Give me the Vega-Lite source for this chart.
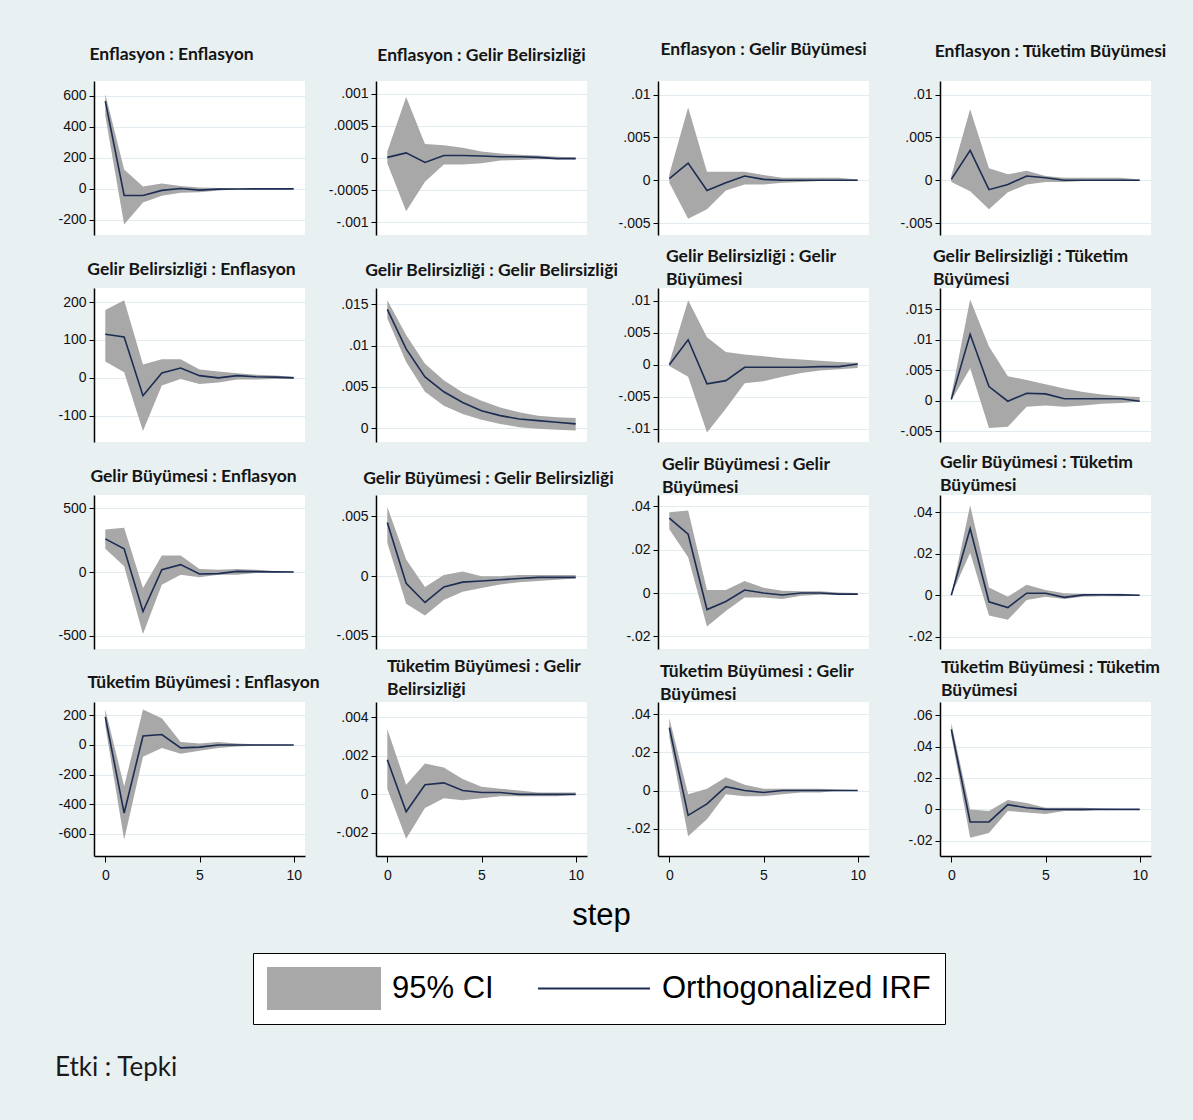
{
  "$schema": "https://vega.github.io/schema/vega-lite/v6.json",
  "background": "#e8f0f2",
  "padding": {"left": 55, "top": 40, "right": 42, "bottom": 44},
  "title": {"text": "Etki : Tepki", "orient": "bottom", "anchor": "start", "frame": "group", "fontWeight": "normal", "fontSize": 26, "offset": 30, "dx": -39, "color": "#1a1a1a"},
  "config": {
    "view": {"fill": "white", "stroke": null},
    "title": {"font": "Lato", "fontSize": 17.5, "fontWeight": "bold", "color": "#141414", "frame": "group", "anchor": "middle", "lineHeight": 23},
    "axis": {"domainColor": "#000000", "domainWidth": 1.5, "tickColor": "#000000", "tickSize": 5, "tickWidth": 1, "tickCount": 12, "labelFont": "Liberation Sans", "labelFontSize": 14, "labelColor": "#111111", "labelPadding": 3, "labelOverlap": false, "title": null},
    "axisY": {"grid": true, "gridColor": "#e2ebef", "gridWidth": 1.2, "labelExpr": "replace(toString(datum.value), regexp('^(-?)0\\\\.'), '$1.')"},
    "axisX": {"grid": false, "tickSize": 6, "labelPadding": 6},
    "line": {"strokeWidth": 1.6},
    "area": {"opacity": 1}
  },
  "data": {"values": [
    {"panel":"11","step":0,"irf":565,"lo":470,"hi":610},{"panel":"11","step":1,"irf":-43,"lo":-230,"hi":125},{"panel":"11","step":2,"irf":-43,"lo":-88,"hi":15},{"panel":"11","step":3,"irf":-10,"lo":-45,"hi":35},{"panel":"11","step":4,"irf":2,"lo":-25,"hi":18},{"panel":"11","step":5,"irf":-8,"lo":-22,"hi":8},{"panel":"11","step":6,"irf":-2,"lo":-10,"hi":5},{"panel":"11","step":7,"irf":-1,"lo":-5,"hi":3},{"panel":"11","step":8,"irf":0,"lo":-3,"hi":2},{"panel":"11","step":9,"irf":0,"lo":-2,"hi":1},{"panel":"11","step":10,"irf":0,"lo":-1,"hi":1},
    {"panel":"12","step":0,"irf":0.00001,"lo":-0.00008,"hi":0.0001},{"panel":"12","step":1,"irf":0.00008,"lo":-0.00083,"hi":0.00095},{"panel":"12","step":2,"irf":-0.00007,"lo":-0.00037,"hi":0.00022},{"panel":"12","step":3,"irf":0.00004,"lo":-0.0001,"hi":0.0002},{"panel":"12","step":4,"irf":0.00004,"lo":-0.0001,"hi":0.00016},{"panel":"12","step":5,"irf":0.00003,"lo":-0.00008,"hi":0.0001},{"panel":"12","step":6,"irf":0.00002,"lo":-0.00004,"hi":0.00007},{"panel":"12","step":7,"irf":0.00002,"lo":-0.00003,"hi":0.00005},{"panel":"12","step":8,"irf":0.00001,"lo":-0.00002,"hi":0.00004},{"panel":"12","step":9,"irf":-0.00001,"lo":-0.00002,"hi":0.00002},{"panel":"12","step":10,"irf":-0.00001,"lo":-0.00002,"hi":0.00001},
    {"panel":"13","step":0,"irf":0.0002,"lo":-0.0003,"hi":0.0007},{"panel":"13","step":1,"irf":0.002,"lo":-0.0045,"hi":0.0085},{"panel":"13","step":2,"irf":-0.0012,"lo":-0.0034,"hi":0.001},{"panel":"13","step":3,"irf":-0.0003,"lo":-0.0012,"hi":0.001},{"panel":"13","step":4,"irf":0.0005,"lo":-0.0005,"hi":0.001},{"panel":"13","step":5,"irf":0.0001,"lo":-0.0005,"hi":0.0006},{"panel":"13","step":6,"irf":0,"lo":-0.0003,"hi":0.0003},{"panel":"13","step":7,"irf":0,"lo":-0.0002,"hi":0.0003},{"panel":"13","step":8,"irf":0,"lo":-0.0001,"hi":0.0003},{"panel":"13","step":9,"irf":0,"lo":-0.0001,"hi":0.0003},{"panel":"13","step":10,"irf":0,"lo":0,"hi":0.0001},
    {"panel":"14","step":0,"irf":0.0001,"lo":-0.0002,"hi":0.0005},{"panel":"14","step":1,"irf":0.0035,"lo":-0.0013,"hi":0.0083},{"panel":"14","step":2,"irf":-0.0011,"lo":-0.0034,"hi":0.0014},{"panel":"14","step":3,"irf":-0.0005,"lo":-0.0014,"hi":0.0007},{"panel":"14","step":4,"irf":0.0005,"lo":-0.0005,"hi":0.0011},{"panel":"14","step":5,"irf":0.0003,"lo":-0.0002,"hi":0.0005},{"panel":"14","step":6,"irf":0,"lo":-0.0002,"hi":0.0003},{"panel":"14","step":7,"irf":0,"lo":-0.0001,"hi":0.0003},{"panel":"14","step":8,"irf":0,"lo":-0.0001,"hi":0.0003},{"panel":"14","step":9,"irf":0,"lo":-0.0001,"hi":0.0003},{"panel":"14","step":10,"irf":0,"lo":0,"hi":0.0001},
    {"panel":"21","step":0,"irf":115,"lo":43,"hi":179},{"panel":"21","step":1,"irf":108,"lo":15,"hi":205},{"panel":"21","step":2,"irf":-47,"lo":-140,"hi":35},{"panel":"21","step":3,"irf":13,"lo":-20,"hi":49},{"panel":"21","step":4,"irf":26,"lo":-3,"hi":49},{"panel":"21","step":5,"irf":6,"lo":-16,"hi":22},{"panel":"21","step":6,"irf":0,"lo":-12,"hi":17},{"panel":"21","step":7,"irf":6,"lo":-4,"hi":12},{"panel":"21","step":8,"irf":3,"lo":-4,"hi":8},{"panel":"21","step":9,"irf":2,"lo":-3,"hi":6},{"panel":"21","step":10,"irf":0,"lo":-2,"hi":3},
    {"panel":"22","step":0,"irf":0.0144,"lo":0.0133,"hi":0.0155},{"panel":"22","step":1,"irf":0.0096,"lo":0.008,"hi":0.0113},{"panel":"22","step":2,"irf":0.0062,"lo":0.0044,"hi":0.0078},{"panel":"22","step":3,"irf":0.0044,"lo":0.0027,"hi":0.0058},{"panel":"22","step":4,"irf":0.0031,"lo":0.0017,"hi":0.0043},{"panel":"22","step":5,"irf":0.0021,"lo":0.001,"hi":0.0033},{"panel":"22","step":6,"irf":0.0015,"lo":0.0005,"hi":0.0025},{"panel":"22","step":7,"irf":0.0011,"lo":0.0001,"hi":0.0019},{"panel":"22","step":8,"irf":0.0009,"lo":-0.0001,"hi":0.0015},{"panel":"22","step":9,"irf":0.0007,"lo":-0.0002,"hi":0.0013},{"panel":"22","step":10,"irf":0.0005,"lo":-0.0003,"hi":0.0012},
    {"panel":"23","step":0,"irf":0,"lo":-0.0002,"hi":0.0003},{"panel":"23","step":1,"irf":0.0039,"lo":-0.0019,"hi":0.0101},{"panel":"23","step":2,"irf":-0.003,"lo":-0.0106,"hi":0.0043},{"panel":"23","step":3,"irf":-0.0025,"lo":-0.0069,"hi":0.002},{"panel":"23","step":4,"irf":-0.0004,"lo":-0.0029,"hi":0.0016},{"panel":"23","step":5,"irf":-0.0004,"lo":-0.0026,"hi":0.0013},{"panel":"23","step":6,"irf":-0.0004,"lo":-0.0019,"hi":0.001},{"panel":"23","step":7,"irf":-0.0004,"lo":-0.0013,"hi":0.0008},{"panel":"23","step":8,"irf":-0.0003,"lo":-0.0009,"hi":0.0006},{"panel":"23","step":9,"irf":-0.0003,"lo":-0.0007,"hi":0.0004},{"panel":"23","step":10,"irf":0.0001,"lo":-0.0005,"hi":0.0003},
    {"panel":"24","step":0,"irf":0.0002,"lo":0,"hi":0.0009},{"panel":"24","step":1,"irf":0.0109,"lo":0.0053,"hi":0.0166},{"panel":"24","step":2,"irf":0.0023,"lo":-0.0045,"hi":0.0089},{"panel":"24","step":3,"irf":-0.0001,"lo":-0.0043,"hi":0.004},{"panel":"24","step":4,"irf":0.0012,"lo":-0.001,"hi":0.0034},{"panel":"24","step":5,"irf":0.0011,"lo":-0.0008,"hi":0.0027},{"panel":"24","step":6,"irf":0.0003,"lo":-0.001,"hi":0.002},{"panel":"24","step":7,"irf":0.0003,"lo":-0.0008,"hi":0.0014},{"panel":"24","step":8,"irf":0.0003,"lo":-0.0005,"hi":0.001},{"panel":"24","step":9,"irf":0.0003,"lo":-0.0004,"hi":0.0007},{"panel":"24","step":10,"irf":-0.0001,"lo":-0.0002,"hi":0.0006},
    {"panel":"31","step":0,"irf":260,"lo":182,"hi":334},{"panel":"31","step":1,"irf":182,"lo":45,"hi":347},{"panel":"31","step":2,"irf":-310,"lo":-487,"hi":-126},{"panel":"31","step":3,"irf":18,"lo":-100,"hi":129},{"panel":"31","step":4,"irf":58,"lo":-21,"hi":129},{"panel":"31","step":5,"irf":-16,"lo":-42,"hi":24},{"panel":"31","step":6,"irf":-13,"lo":-21,"hi":18},{"panel":"31","step":7,"irf":5,"lo":-21,"hi":24},{"panel":"31","step":8,"irf":3,"lo":-8,"hi":18},{"panel":"31","step":9,"irf":1,"lo":-4,"hi":6},{"panel":"31","step":10,"irf":0,"lo":-2,"hi":2},
    {"panel":"32","step":0,"irf":0.0045,"lo":0.0028,"hi":0.0058},{"panel":"32","step":1,"irf":-0.0006,"lo":-0.0023,"hi":0.0014},{"panel":"32","step":2,"irf":-0.0022,"lo":-0.0033,"hi":-0.0009},{"panel":"32","step":3,"irf":-0.0009,"lo":-0.002,"hi":0.0001},{"panel":"32","step":4,"irf":-0.0005,"lo":-0.0013,"hi":0.0004},{"panel":"32","step":5,"irf":-0.0004,"lo":-0.001,"hi":0},{"panel":"32","step":6,"irf":-0.0003,"lo":-0.0007,"hi":0},{"panel":"32","step":7,"irf":-0.0002,"lo":-0.0005,"hi":0.0001},{"panel":"32","step":8,"irf":-0.0001,"lo":-0.0004,"hi":0.0001},{"panel":"32","step":9,"irf":-0.0001,"lo":-0.0003,"hi":0.0001},{"panel":"32","step":10,"irf":-0.0001,"lo":-0.0002,"hi":0.0001},
    {"panel":"33","step":0,"irf":0.0345,"lo":0.0294,"hi":0.0373},{"panel":"33","step":1,"irf":0.0271,"lo":0.0165,"hi":0.0381},{"panel":"33","step":2,"irf":-0.0076,"lo":-0.0154,"hi":0.0014},{"panel":"33","step":3,"irf":-0.0039,"lo":-0.0083,"hi":0.0014},{"panel":"33","step":4,"irf":0.0014,"lo":-0.002,"hi":0.0055},{"panel":"33","step":5,"irf":0,"lo":-0.002,"hi":0.0024},{"panel":"33","step":6,"irf":-0.0009,"lo":-0.0028,"hi":0.0011},{"panel":"33","step":7,"irf":0,"lo":-0.0013,"hi":0.0008},{"panel":"33","step":8,"irf":0,"lo":-0.0008,"hi":0.0008},{"panel":"33","step":9,"irf":-0.0005,"lo":-0.0008,"hi":0.0003},{"panel":"33","step":10,"irf":-0.0005,"lo":-0.0008,"hi":0},
    {"panel":"34","step":0,"irf":0,"lo":0,"hi":0},{"panel":"34","step":1,"irf":0.0321,"lo":0.0205,"hi":0.0433},{"panel":"34","step":2,"irf":-0.0031,"lo":-0.0097,"hi":0.0038},{"panel":"34","step":3,"irf":-0.0059,"lo":-0.0118,"hi":-0.0007},{"panel":"34","step":4,"irf":0.001,"lo":-0.0023,"hi":0.0051},{"panel":"34","step":5,"irf":0.001,"lo":-0.0007,"hi":0.0026},{"panel":"34","step":6,"irf":-0.001,"lo":-0.0018,"hi":0.001},{"panel":"34","step":7,"irf":0.0002,"lo":-0.0007,"hi":0.0007},{"panel":"34","step":8,"irf":0.0003,"lo":-0.0004,"hi":0.0007},{"panel":"34","step":9,"irf":0.0002,"lo":-0.0004,"hi":0.0007},{"panel":"34","step":10,"irf":0,"lo":-0.0001,"hi":0.0001},
    {"panel":"41","step":0,"irf":190,"lo":130,"hi":240},{"panel":"41","step":1,"irf":-460,"lo":-640,"hi":-280},{"panel":"41","step":2,"irf":60,"lo":-80,"hi":240},{"panel":"41","step":3,"irf":70,"lo":-20,"hi":180},{"panel":"41","step":4,"irf":-20,"lo":-60,"hi":20},{"panel":"41","step":5,"irf":-15,"lo":-40,"hi":10},{"panel":"41","step":6,"irf":0,"lo":-20,"hi":20},{"panel":"41","step":7,"irf":0,"lo":-10,"hi":10},{"panel":"41","step":8,"irf":0,"lo":-5,"hi":5},{"panel":"41","step":9,"irf":0,"lo":-3,"hi":3},{"panel":"41","step":10,"irf":0,"lo":-2,"hi":2},
    {"panel":"42","step":0,"irf":0.0018,"lo":0.0003,"hi":0.0034},{"panel":"42","step":1,"irf":-0.0009,"lo":-0.0023,"hi":0.0005},{"panel":"42","step":2,"irf":0.0005,"lo":-0.0007,"hi":0.0016},{"panel":"42","step":3,"irf":0.0006,"lo":-0.0002,"hi":0.0014},{"panel":"42","step":4,"irf":0.0002,"lo":-0.0003,"hi":0.0008},{"panel":"42","step":5,"irf":0.0001,"lo":-0.0002,"hi":0.0004},{"panel":"42","step":6,"irf":0.0001,"lo":-0.0001,"hi":0.0003},{"panel":"42","step":7,"irf":0,"lo":-0.0001,"hi":0.0002},{"panel":"42","step":8,"irf":0,"lo":-0.0001,"hi":0.0001},{"panel":"42","step":9,"irf":0,"lo":-0.0001,"hi":0.0001},{"panel":"42","step":10,"irf":0,"lo":0,"hi":0.0001},
    {"panel":"43","step":0,"irf":0.033,"lo":0.028,"hi":0.038},{"panel":"43","step":1,"irf":-0.013,"lo":-0.024,"hi":-0.002},{"panel":"43","step":2,"irf":-0.007,"lo":-0.015,"hi":0.001},{"panel":"43","step":3,"irf":0.002,"lo":-0.002,"hi":0.007},{"panel":"43","step":4,"irf":0,"lo":-0.003,"hi":0.003},{"panel":"43","step":5,"irf":-0.001,"lo":-0.003,"hi":0.001},{"panel":"43","step":6,"irf":0,"lo":-0.002,"hi":0.001},{"panel":"43","step":7,"irf":0,"lo":-0.001,"hi":0.001},{"panel":"43","step":8,"irf":0,"lo":-0.001,"hi":0.001},{"panel":"43","step":9,"irf":0,"lo":0,"hi":0.0005},{"panel":"43","step":10,"irf":0,"lo":0,"hi":0.0003},
    {"panel":"44","step":0,"irf":0.051,"lo":0.047,"hi":0.055},{"panel":"44","step":1,"irf":-0.008,"lo":-0.018,"hi":0},{"panel":"44","step":2,"irf":-0.008,"lo":-0.015,"hi":-0.001},{"panel":"44","step":3,"irf":0.003,"lo":-0.001,"hi":0.006},{"panel":"44","step":4,"irf":0.001,"lo":-0.002,"hi":0.004},{"panel":"44","step":5,"irf":0,"lo":-0.003,"hi":0.001},{"panel":"44","step":6,"irf":0,"lo":-0.001,"hi":0.001},{"panel":"44","step":7,"irf":0,"lo":-0.001,"hi":0.001},{"panel":"44","step":8,"irf":0,"lo":0,"hi":0.0005},{"panel":"44","step":9,"irf":0,"lo":0,"hi":0.0003},{"panel":"44","step":10,"irf":0,"lo":0,"hi":0.0002}
  ]},
  "columns": 4,
  "bounds": "flush",
  "spacing": {"row": 53, "column": 71},
  "concat": [
    {"title": {"text": "Enflasyon : Enflasyon", "dx": -28, "offset": 18}, "width": 211, "height": 154,
     "transform": [{"filter": "datum.panel === '11'"}],
     "encoding": {"x": {"field": "step", "type": "quantitative", "scale": {"domain": [-0.6, 10.6], "nice": false}, "axis": null}},
     "layer": [
       {"mark": "area", "encoding": {"y": {"field": "lo", "type": "quantitative", "title": null, "scale": {"domain": [-297, 694], "nice": false, "zero": false}, "axis": {"values": [-200, 0, 200, 400, 600]}}, "y2": {"field": "hi"},
         "color": {"datum": "95% CI", "scale": {"domain": ["95% CI", "Orthogonalized IRF"], "range": ["#a8a8a8", "#1c2c52"]},
           "legend": {"title": null, "orient": "none", "legendX": 159, "legendY": 872, "direction": "horizontal", "fillColor": "white", "strokeColor": "#000000", "padding": 14, "clipHeight": 43, "symbolSize": 12544, "symbolType": "stroke", "symbolStrokeWidth": 2, "labelFont": "Liberation Sans", "labelFontSize": 31, "labelColor": "#000000", "labelOffset": 11, "columnPadding": 43, "labelLimit": 0,
             "encoding": {"symbols": {
               "shape": {"value": {"expr": "datum.value === '95% CI' ? 'M-1,-0.38H1V0.38H-1Z' : 'stroke'"}},
               "size": {"value": 12544},
               "strokeWidth": {"value": 2},
               "fill": {"value": {"expr": "datum.value === '95% CI' ? '#a8a8a8' : 'transparent'"}},
               "stroke": {"value": {"expr": "datum.value === '95% CI' ? '#a8a8a8' : '#1c2c52'"}},
               "opacity": {"value": 1}}}}}}},
       {"mark": "line", "encoding": {"y": {"field": "irf", "type": "quantitative", "title": null}, "color": {"datum": "Orthogonalized IRF"}}}
     ]},
    {"title": {"text": "Enflasyon : Gelir Belirsizliği", "dx": 0, "offset": 17}, "width": 211, "height": 154,
     "transform": [{"filter": "datum.panel === '12'"}],
     "encoding": {"x": {"field": "step", "type": "quantitative", "scale": {"domain": [-0.6, 10.6], "nice": false}, "axis": null}},
     "layer": [
       {"mark": "area", "encoding": {"y": {"field": "lo", "type": "quantitative", "title": null, "scale": {"domain": [-0.0012, 0.0012], "nice": false, "zero": false}, "axis": {"values": [-0.001, -0.0005, 0, 0.0005, 0.001]}}, "y2": {"field": "hi"}, "color": {"datum": "95% CI"}}},
       {"mark": "line", "encoding": {"y": {"field": "irf", "type": "quantitative", "title": null}, "color": {"datum": "Orthogonalized IRF"}}}
     ]},
    {"title": {"text": "Enflasyon : Gelir Büyümesi", "dx": 0, "offset": 23}, "width": 211, "height": 154,
     "transform": [{"filter": "datum.panel === '13'"}],
     "encoding": {"x": {"field": "step", "type": "quantitative", "scale": {"domain": [-0.6, 10.6], "nice": false}, "axis": null}},
     "layer": [
       {"mark": "area", "encoding": {"y": {"field": "lo", "type": "quantitative", "title": null, "scale": {"domain": [-0.0064, 0.0116], "nice": false, "zero": false}, "axis": {"values": [-0.005, 0, 0.005, 0.01]}}, "y2": {"field": "hi"}, "color": {"datum": "95% CI"}}},
       {"mark": "line", "encoding": {"y": {"field": "irf", "type": "quantitative", "title": null}, "color": {"datum": "Orthogonalized IRF"}}}
     ]},
    {"title": {"text": "Enflasyon : Tüketim Büyümesi", "dx": 5, "offset": 21}, "width": 211, "height": 154,
     "transform": [{"filter": "datum.panel === '14'"}],
     "encoding": {"x": {"field": "step", "type": "quantitative", "scale": {"domain": [-0.6, 10.6], "nice": false}, "axis": null}},
     "layer": [
       {"mark": "area", "encoding": {"y": {"field": "lo", "type": "quantitative", "title": null, "scale": {"domain": [-0.0064, 0.0116], "nice": false, "zero": false}, "axis": {"values": [-0.005, 0, 0.005, 0.01]}}, "y2": {"field": "hi"}, "color": {"datum": "95% CI"}}},
       {"mark": "line", "encoding": {"y": {"field": "irf", "type": "quantitative", "title": null}, "color": {"datum": "Orthogonalized IRF"}}}
     ]},
    {"title": {"text": "Gelir Belirsizliği : Enflasyon", "dx": -8, "offset": 10}, "width": 211, "height": 154,
     "transform": [{"filter": "datum.panel === '21'"}],
     "encoding": {"x": {"field": "step", "type": "quantitative", "scale": {"domain": [-0.6, 10.6], "nice": false}, "axis": null}},
     "layer": [
       {"mark": "area", "encoding": {"y": {"field": "lo", "type": "quantitative", "title": null, "scale": {"domain": [-169, 237], "nice": false, "zero": false}, "axis": {"values": [-100, 0, 100, 200]}}, "y2": {"field": "hi"}, "color": {"datum": "95% CI"}}},
       {"mark": "line", "encoding": {"y": {"field": "irf", "type": "quantitative", "title": null}, "color": {"datum": "Orthogonalized IRF"}}}
     ]},
    {"title": {"text": "Gelir Belirsizliği : Gelir Belirsizliği", "dx": 10, "offset": 9}, "width": 211, "height": 154,
     "transform": [{"filter": "datum.panel === '22'"}],
     "encoding": {"x": {"field": "step", "type": "quantitative", "scale": {"domain": [-0.6, 10.6], "nice": false}, "axis": null}},
     "layer": [
       {"mark": "area", "encoding": {"y": {"field": "lo", "type": "quantitative", "title": null, "scale": {"domain": [-0.0017, 0.017], "nice": false, "zero": false}, "axis": {"values": [0, 0.005, 0.01, 0.015]}}, "y2": {"field": "hi"}, "color": {"datum": "95% CI"}}},
       {"mark": "line", "encoding": {"y": {"field": "irf", "type": "quantitative", "title": null}, "color": {"datum": "Orthogonalized IRF"}}}
     ]},
    {"title": {"text": ["Gelir Belirsizliği : Gelir", "Büyümesi"], "anchor": "start", "dx": 8, "offset": 0}, "width": 211, "height": 154,
     "transform": [{"filter": "datum.panel === '23'"}],
     "encoding": {"x": {"field": "step", "type": "quantitative", "scale": {"domain": [-0.6, 10.6], "nice": false}, "axis": null}},
     "layer": [
       {"mark": "area", "encoding": {"y": {"field": "lo", "type": "quantitative", "title": null, "scale": {"domain": [-0.0121, 0.012], "nice": false, "zero": false}, "axis": {"values": [-0.01, -0.005, 0, 0.005, 0.01]}}, "y2": {"field": "hi"}, "color": {"datum": "95% CI"}}},
       {"mark": "line", "encoding": {"y": {"field": "irf", "type": "quantitative", "title": null}, "color": {"datum": "Orthogonalized IRF"}}}
     ]},
    {"title": {"text": ["Gelir Belirsizliği : Tüketim", "Büyümesi"], "anchor": "start", "dx": -7, "offset": 0}, "width": 211, "height": 154,
     "transform": [{"filter": "datum.panel === '24'"}],
     "encoding": {"x": {"field": "step", "type": "quantitative", "scale": {"domain": [-0.6, 10.6], "nice": false}, "axis": null}},
     "layer": [
       {"mark": "area", "encoding": {"y": {"field": "lo", "type": "quantitative", "title": null, "scale": {"domain": [-0.0068, 0.0185], "nice": false, "zero": false}, "axis": {"values": [-0.005, 0, 0.005, 0.01, 0.015]}}, "y2": {"field": "hi"}, "color": {"datum": "95% CI"}}},
       {"mark": "line", "encoding": {"y": {"field": "irf", "type": "quantitative", "title": null}, "color": {"datum": "Orthogonalized IRF"}}}
     ]},
    {"title": {"text": "Gelir Büyümesi : Enflasyon", "dx": -6, "offset": 10}, "width": 211, "height": 154,
     "transform": [{"filter": "datum.panel === '31'"}],
     "encoding": {"x": {"field": "step", "type": "quantitative", "scale": {"domain": [-0.6, 10.6], "nice": false}, "axis": null}},
     "layer": [
       {"mark": "area", "encoding": {"y": {"field": "lo", "type": "quantitative", "title": null, "scale": {"domain": [-605, 605], "nice": false, "zero": false}, "axis": {"values": [-500, 0, 500]}}, "y2": {"field": "hi"}, "color": {"datum": "95% CI"}}},
       {"mark": "line", "encoding": {"y": {"field": "irf", "type": "quantitative", "title": null}, "color": {"datum": "Orthogonalized IRF"}}}
     ]},
    {"title": {"text": "Gelir Büyümesi : Gelir Belirsizliği", "dx": 7, "offset": 8}, "width": 211, "height": 154,
     "transform": [{"filter": "datum.panel === '32'"}],
     "encoding": {"x": {"field": "step", "type": "quantitative", "scale": {"domain": [-0.6, 10.6], "nice": false}, "axis": null}},
     "layer": [
       {"mark": "area", "encoding": {"y": {"field": "lo", "type": "quantitative", "title": null, "scale": {"domain": [-0.0061, 0.0068], "nice": false, "zero": false}, "axis": {"values": [-0.005, 0, 0.005]}}, "y2": {"field": "hi"}, "color": {"datum": "95% CI"}}},
       {"mark": "line", "encoding": {"y": {"field": "irf", "type": "quantitative", "title": null}, "color": {"datum": "Orthogonalized IRF"}}}
     ]},
    {"title": {"text": ["Gelir Büyümesi : Gelir", "Büyümesi"], "anchor": "start", "dx": 4, "offset": -1}, "width": 211, "height": 154,
     "transform": [{"filter": "datum.panel === '33'"}],
     "encoding": {"x": {"field": "step", "type": "quantitative", "scale": {"domain": [-0.6, 10.6], "nice": false}, "axis": null}},
     "layer": [
       {"mark": "area", "encoding": {"y": {"field": "lo", "type": "quantitative", "title": null, "scale": {"domain": [-0.0258, 0.0452], "nice": false, "zero": false}, "axis": {"values": [-0.02, 0, 0.02, 0.04]}}, "y2": {"field": "hi"}, "color": {"datum": "95% CI"}}},
       {"mark": "line", "encoding": {"y": {"field": "irf", "type": "quantitative", "title": null}, "color": {"datum": "Orthogonalized IRF"}}}
     ]},
    {"title": {"text": ["Gelir Büyümesi : Tüketim", "Büyümesi"], "anchor": "start", "dx": 0, "offset": 1}, "width": 211, "height": 154,
     "transform": [{"filter": "datum.panel === '34'"}],
     "encoding": {"x": {"field": "step", "type": "quantitative", "scale": {"domain": [-0.6, 10.6], "nice": false}, "axis": null}},
     "layer": [
       {"mark": "area", "encoding": {"y": {"field": "lo", "type": "quantitative", "title": null, "scale": {"domain": [-0.0258, 0.0482], "nice": false, "zero": false}, "axis": {"values": [-0.02, 0, 0.02, 0.04]}}, "y2": {"field": "hi"}, "color": {"datum": "95% CI"}}},
       {"mark": "line", "encoding": {"y": {"field": "irf", "type": "quantitative", "title": null}, "color": {"datum": "Orthogonalized IRF"}}}
     ]},
    {"title": {"text": "Tüketim Büyümesi : Enflasyon", "dx": 4, "offset": 11}, "width": 211, "height": 154,
     "transform": [{"filter": "datum.panel === '41'"}],
     "encoding": {"x": {"field": "step", "type": "quantitative", "scale": {"domain": [-0.6, 10.6], "nice": false}, "axis": {"values": [0, 5, 10]}}},
     "layer": [
       {"mark": "area", "encoding": {"y": {"field": "lo", "type": "quantitative", "title": null, "scale": {"domain": [-750, 290], "nice": false, "zero": false}, "axis": {"values": [-600, -400, -200, 0, 200]}}, "y2": {"field": "hi"}, "color": {"datum": "95% CI"}}},
       {"mark": "line", "encoding": {"y": {"field": "irf", "type": "quantitative", "title": null}, "color": {"datum": "Orthogonalized IRF"}}}
     ]},
    {"title": {"text": ["Tüketim Büyümesi : Gelir", "Belirsizliği"], "anchor": "start", "dx": 11, "offset": 4}, "width": 211, "height": 154,
     "transform": [{"filter": "datum.panel === '42'"}],
     "encoding": {"x": {"field": "step", "type": "quantitative", "scale": {"domain": [-0.6, 10.6], "nice": false},
       "axis": {"values": [0, 5, 10], "title": "step", "titleX": 225, "titleY": 59, "titleFont": "Liberation Sans", "titleFontSize": 31, "titleFontWeight": "normal", "titleBaseline": "middle", "titleAlign": "center", "titleColor": "#000000"}}},
     "layer": [
       {"mark": "area", "encoding": {"y": {"field": "lo", "type": "quantitative", "title": null, "scale": {"domain": [-0.0032, 0.0048], "nice": false, "zero": false}, "axis": {"values": [-0.002, 0, 0.002, 0.004]}}, "y2": {"field": "hi"}, "color": {"datum": "95% CI"}}},
       {"mark": "line", "encoding": {"y": {"field": "irf", "type": "quantitative", "title": null}, "color": {"datum": "Orthogonalized IRF"}}}
     ]},
    {"title": {"text": ["Tüketim Büyümesi : Gelir", "Büyümesi"], "anchor": "start", "dx": 2, "offset": -1}, "width": 211, "height": 154,
     "transform": [{"filter": "datum.panel === '43'"}],
     "encoding": {"x": {"field": "step", "type": "quantitative", "scale": {"domain": [-0.6, 10.6], "nice": false}, "axis": {"values": [0, 5, 10]}}},
     "layer": [
       {"mark": "area", "encoding": {"y": {"field": "lo", "type": "quantitative", "title": null, "scale": {"domain": [-0.0343, 0.0464], "nice": false, "zero": false}, "axis": {"values": [-0.02, 0, 0.02, 0.04]}}, "y2": {"field": "hi"}, "color": {"datum": "95% CI"}}},
       {"mark": "line", "encoding": {"y": {"field": "irf", "type": "quantitative", "title": null}, "color": {"datum": "Orthogonalized IRF"}}}
     ]},
    {"title": {"text": ["Tüketim Büyümesi : Tüketim", "Büyümesi"], "anchor": "start", "dx": 1, "offset": 3}, "width": 211, "height": 154,
     "transform": [{"filter": "datum.panel === '44'"}],
     "encoding": {"x": {"field": "step", "type": "quantitative", "scale": {"domain": [-0.6, 10.6], "nice": false}, "axis": {"values": [0, 5, 10]}}},
     "layer": [
       {"mark": "area", "encoding": {"y": {"field": "lo", "type": "quantitative", "title": null, "scale": {"domain": [-0.0297, 0.0684], "nice": false, "zero": false}, "axis": {"values": [-0.02, 0, 0.02, 0.04, 0.06]}}, "y2": {"field": "hi"}, "color": {"datum": "95% CI"}}},
       {"mark": "line", "encoding": {"y": {"field": "irf", "type": "quantitative", "title": null}, "color": {"datum": "Orthogonalized IRF"}}}
     ]}
  ]
}
